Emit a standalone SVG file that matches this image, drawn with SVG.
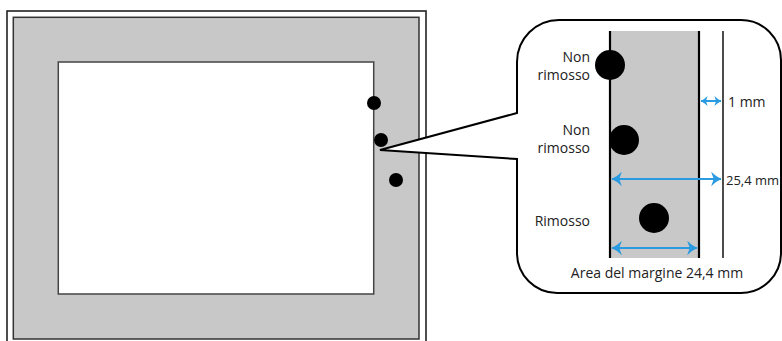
<svg xmlns="http://www.w3.org/2000/svg" width="782" height="341" viewBox="0 0 782 341">
<defs>
<style>
.lbl{font-family:"Open Sans","Liberation Sans",sans-serif;font-size:14px;fill:#222}
.dim{stroke:#2a9be0;stroke-width:2;fill:none}
.dot{fill:#000}
</style>
<marker id="ah" viewBox="0 0 10 14" refX="9.5" refY="7" markerWidth="5.2" markerHeight="7.5" orient="auto-start-reverse" markerUnits="strokeWidth">
<path d="M0,0 Q5,5 10,7 Q5,9 0,14 L2.5,7 Z" fill="#2a9be0"/>
</marker>
<marker id="ahs" viewBox="0 0 10 14" refX="9.5" refY="7" markerWidth="3.5" markerHeight="5" orient="auto-start-reverse" markerUnits="strokeWidth">
<path d="M0,0 Q5,5 10,7 Q5,9 0,14 L2.5,7 Z" fill="#2a9be0"/>
</marker>
</defs>
<rect width="782" height="341" fill="#fff"/>
<g id="panel">
<rect x="7" y="11" width="419" height="340" fill="#fff" stroke="#222" stroke-width="1.6"/>
<rect x="13.3" y="17.3" width="405.7" height="321.7" fill="#c8c8c8" stroke="#333" stroke-width="1.5"/>
<rect x="58.3" y="62" width="315.4" height="232" fill="#fff" stroke="#444" stroke-width="1.5"/>
<circle class="dot" cx="374" cy="103" r="7"/>
<circle class="dot" cx="381" cy="140" r="7"/>
<circle class="dot" cx="396" cy="180" r="7"/>
</g>
<g id="callout">
<path d="M559,20 H741 A40,40 0 0 1 781,60 V253 A40,40 0 0 1 741,293 H557 A40,40 0 0 1 517,253 V159 L380,150 L517,113 V62 A42,42 0 0 1 559,20 Z" fill="#fff" stroke="#000" stroke-width="2" stroke-linejoin="miter"/>
<rect x="610" y="31" width="89" height="227" fill="#c8c8c8"/>
<line x1="610" y1="31" x2="610" y2="258" stroke="#000" stroke-width="2.2"/>
<line x1="699" y1="31" x2="699" y2="258" stroke="#000" stroke-width="2.2"/>
<line x1="723" y1="31" x2="723" y2="258" stroke="#000" stroke-width="1.4"/>
<circle class="dot" cx="610" cy="65" r="15"/>
<circle class="dot" cx="624" cy="140" r="15"/>
<circle class="dot" cx="654" cy="218" r="15"/>
</g>
<g id="labels">
<text class="lbl" x="590" y="62" text-anchor="end">Non</text>
<text class="lbl" x="590" y="80" text-anchor="end">rimosso</text>
<text class="lbl" x="590" y="135" text-anchor="end">Non</text>
<text class="lbl" x="590" y="153" text-anchor="end">rimosso</text>
<text class="lbl" x="590" y="226" text-anchor="end">Rimosso</text>
<text class="lbl" x="728" y="107">1 mm</text>
<text class="lbl" x="726" y="185" style="font-size:13px">25,4 mm</text>
<text class="lbl" x="657" y="278" text-anchor="middle">Area del margine 24,4 mm</text>
</g>
<g id="connectors">
<line class="dim" x1="701" y1="101" x2="721" y2="101" marker-start="url(#ahs)" marker-end="url(#ahs)"/>
<line class="dim" x1="612" y1="179" x2="721" y2="179" marker-start="url(#ah)" marker-end="url(#ah)"/>
<line class="dim" x1="612" y1="248" x2="697" y2="248" marker-start="url(#ah)" marker-end="url(#ah)"/>
</g>
</svg>
